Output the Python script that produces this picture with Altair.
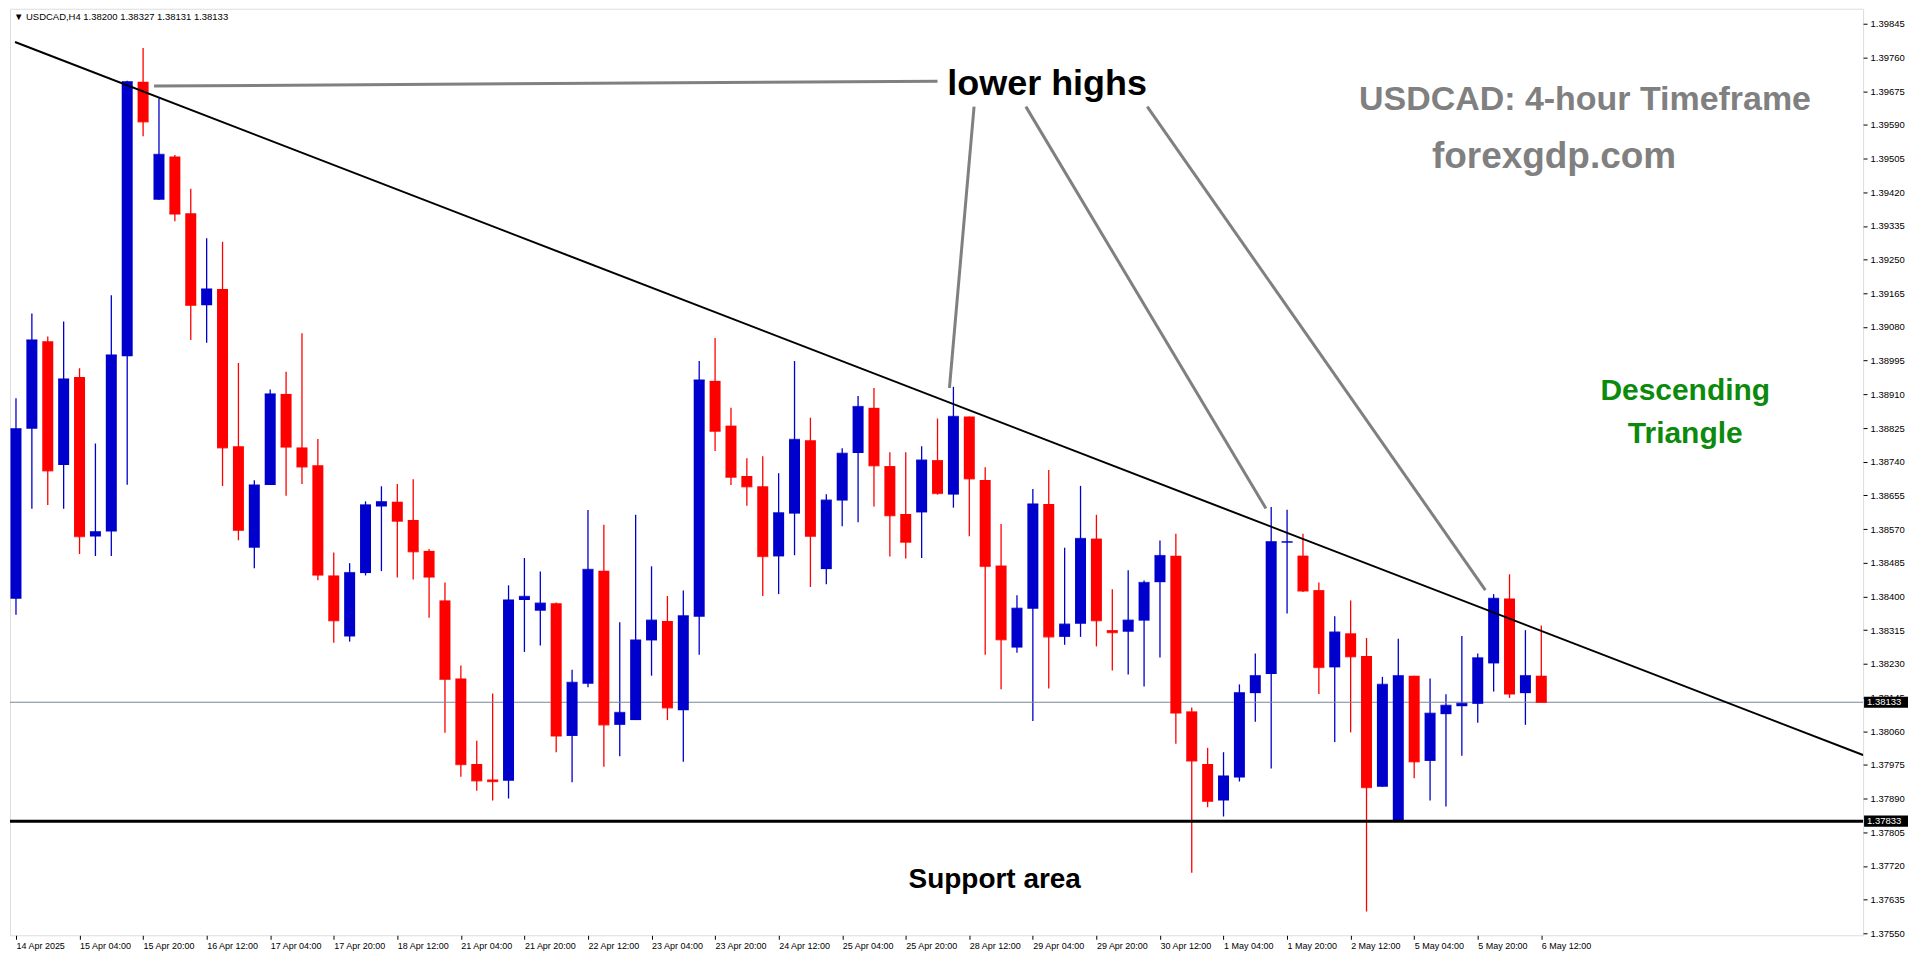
import altair as alt
import pandas as pd

# ---------------- data ----------------
candle_index = list(range(97))
open_ = [1.38394, 1.38823, 1.39044, 1.38732, 1.38954, 1.38551, 1.38564, 1.39006, 1.39699, 1.39401,
         1.39510, 1.39367, 1.39135, 1.39176, 1.38779, 1.38523, 1.38681, 1.38911, 1.38776, 1.38731,
         1.38453, 1.38299, 1.38459, 1.38627, 1.38639, 1.38593, 1.38515, 1.38390, 1.38193, 1.37977,
         1.37938, 1.37935, 1.38391, 1.38364, 1.38383, 1.38048, 1.38180, 1.38465, 1.38076, 1.38088,
         1.38289, 1.38338, 1.38113, 1.38349, 1.38944, 1.38831, 1.38704, 1.38678, 1.38501, 1.38609,
         1.38794, 1.38469, 1.38642, 1.38762, 1.38876, 1.38729, 1.38608, 1.38612, 1.38744, 1.38657,
         1.38854, 1.38694, 1.38478, 1.38271, 1.38369, 1.38633, 1.38298, 1.38331, 1.38546, 1.38315,
         1.38311, 1.38339, 1.38436, 1.38503, 1.38110, 1.37977, 1.37885, 1.37943, 1.38156, 1.38204,
         1.38536, 1.38503, 1.38416, 1.38221, 1.38307, 1.38250, 1.37920, 1.37836, 1.38200, 1.37985,
         1.38103, 1.38123, 1.38129, 1.38231, 1.38395, 1.38156, 1.38200]
high = [1.38900, 1.39114, 1.39056, 1.39094, 1.38976, 1.38786, 1.39160, 1.39701, 1.39784, 1.39657,
        1.39514, 1.39429, 1.39304, 1.39295, 1.38989, 1.38693, 1.38922, 1.38967, 1.39064, 1.38797,
        1.38511, 1.38484, 1.38640, 1.38678, 1.38684, 1.38696, 1.38520, 1.38435, 1.38226, 1.38036,
        1.38155, 1.38428, 1.38497, 1.38463, 1.38385, 1.38215, 1.38618, 1.38581, 1.38335, 1.38606,
        1.38476, 1.38401, 1.38415, 1.38994, 1.39052, 1.38876, 1.38749, 1.38754, 1.38711, 1.38994,
        1.38851, 1.38658, 1.38774, 1.38906, 1.38926, 1.38764, 1.38764, 1.38779, 1.38849, 1.38929,
        1.38854, 1.38726, 1.38583, 1.38403, 1.38671, 1.38719, 1.38523, 1.38679, 1.38606, 1.38418,
        1.38466, 1.38440, 1.38541, 1.38558, 1.38120, 1.38018, 1.38007, 1.38178, 1.38256, 1.38626,
        1.38619, 1.38558, 1.38435, 1.38350, 1.38390, 1.38295, 1.38197, 1.38293, 1.38200, 1.38193,
        1.38153, 1.38300, 1.38256, 1.38406, 1.38456, 1.38315, 1.38327]
low = [1.38354, 1.38621, 1.38631, 1.38621, 1.38507, 1.38502, 1.38502, 1.38682, 1.39561, 1.39401,
       1.39347, 1.39047, 1.39040, 1.38679, 1.38542, 1.38471, 1.38681, 1.38654, 1.38684, 1.38441,
       1.38283, 1.38286, 1.38453, 1.38464, 1.38448, 1.38443, 1.38346, 1.38056, 1.37945, 1.37910,
       1.37885, 1.37890, 1.38260, 1.38276, 1.38007, 1.37931, 1.38171, 1.37970, 1.37997, 1.38088,
       1.38200, 1.38088, 1.37983, 1.38253, 1.38767, 1.38681, 1.38629, 1.38401, 1.38406, 1.38504,
       1.38424, 1.38431, 1.38577, 1.38587, 1.38627, 1.38501, 1.38496, 1.38497, 1.38657, 1.38624,
       1.38552, 1.38253, 1.38166, 1.38258, 1.38086, 1.38168, 1.38278, 1.38298, 1.38274, 1.38213,
       1.38203, 1.38173, 1.38246, 1.38028, 1.37703, 1.37868, 1.37845, 1.37933, 1.38084, 1.37966,
       1.38357, 1.38411, 1.38154, 1.38033, 1.38057, 1.37605, 1.37920, 1.37833, 1.37941, 1.37885,
       1.37870, 1.37998, 1.38081, 1.38160, 1.38144, 1.38076, 1.38131]
close = [1.38823, 1.39047, 1.38717, 1.38949, 1.38551, 1.38563, 1.39009, 1.39699, 1.39598, 1.39515,
         1.39365, 1.39135, 1.39176, 1.38775, 1.38567, 1.38681, 1.38911, 1.38777, 1.38727, 1.38454,
         1.38339, 1.38460, 1.38631, 1.38639, 1.38590, 1.38513, 1.38449, 1.38191, 1.37976, 1.37935,
         1.37933, 1.38391, 1.38400, 1.38383, 1.38048, 1.38183, 1.38468, 1.38076, 1.38107, 1.38290,
         1.38340, 1.38119, 1.38351, 1.38946, 1.38817, 1.38701, 1.38677, 1.38501, 1.38611, 1.38796,
         1.38552, 1.38643, 1.38761, 1.38879, 1.38730, 1.38604, 1.38537, 1.38744, 1.38660, 1.38854,
         1.38697, 1.38476, 1.38291, 1.38370, 1.38633, 1.38298, 1.38330, 1.38546, 1.38339, 1.38309,
         1.38340, 1.38435, 1.38503, 1.38106, 1.37985, 1.37883, 1.37947, 1.38157, 1.38200, 1.38538,
         1.38538, 1.38414, 1.38221, 1.38310, 1.38248, 1.37918, 1.38178, 1.38200, 1.37983, 1.38105,
         1.38125, 1.38130, 1.38245, 1.38395, 1.38154, 1.38200, 1.38133]

x_tick_values = [0, 4, 8, 12, 16, 20, 24, 28, 32, 36, 40, 44, 48, 52, 56, 60, 64, 68, 72, 76, 80,
                 84, 88, 92, 96]
x_tick_labels = ["14 Apr 2025", "15 Apr 04:00", "15 Apr 20:00", "16 Apr 12:00", "17 Apr 04:00",
                 "17 Apr 20:00", "18 Apr 12:00", "21 Apr 04:00", "21 Apr 20:00", "22 Apr 12:00",
                 "23 Apr 04:00", "23 Apr 20:00", "24 Apr 12:00", "25 Apr 04:00", "25 Apr 20:00",
                 "28 Apr 12:00", "29 Apr 04:00", "29 Apr 20:00", "30 Apr 12:00", "1 May 04:00",
                 "1 May 20:00", "2 May 12:00", "5 May 04:00", "5 May 20:00", "6 May 12:00"]
y_tick_values = [1.37550, 1.37635, 1.37720, 1.37805, 1.37890, 1.37975, 1.38060, 1.38145, 1.38230,
                 1.38315, 1.38400, 1.38485, 1.38570, 1.38655, 1.38740, 1.38825, 1.38910, 1.38995,
                 1.39080, 1.39165, 1.39250, 1.39335, 1.39420, 1.39505, 1.39590, 1.39675, 1.39760,
                 1.39845]

trend_x = [-0.0625, 116.69]
trend_p = [1.39799, 1.37993]
support_price = 1.37833
bid_price = 1.38133

ann_x1 = [8.69, 60.3, 63.56, 71.2]
ann_p1 = [1.39688, 1.39636, 1.39636, 1.39636]
ann_x2 = [58.0, 58.75, 78.67, 92.48]
ann_p2 = [1.39700, 1.38926, 1.38622, 1.38416]

note_text = ["lower highs", "USDCAD: 4-hour Timeframe", "forexgdp.com", "Descending", "Triangle",
             "Support area"]
note_x = [64.9, 98.75, 96.8, 105.06, 105.06, 61.6]
note_p = [1.39692, 1.39652, 1.39508, 1.38918, 1.38810, 1.37685]
note_size = [36, 34, 37, 30, 30, 28]
note_color = ["#000000", "#808080", "#808080", "#0B8A0B", "#0B8A0B", "#000000"]

tag_price = [bid_price, support_price]
tag_text = ["1.38133", "1.37833"]

header = "\u25BC USDCAD,H4  1.38200 1.38327 1.38131 1.38133"

# ---------------- chart ----------------
W, H = 1856, 928
FONT = "Liberation Sans"

df = pd.DataFrame({"i": candle_index, "open": open_, "high": high, "low": low, "close": close})
df["dir"] = ["up" if c >= o else "down" for o, c in zip(open_, close)]

xs = alt.Scale(domain=[-0.0625, 115.9375], nice=False, zero=False)
ys = alt.Scale(domain=[1.37545, 1.39883], nice=False, zero=False)
col = alt.Color("dir:N", scale=alt.Scale(domain=["up", "down"], range=["#0000CD", "#FF0000"]),
                legend=None)

labels_js = "[" + ",".join("'" + s + "'" for s in x_tick_labels) + "]"
x_axis = alt.Axis(values=x_tick_values, labelExpr=labels_js + "[round(datum.value/4)]",
                  labelAlign="left", labelPadding=2, tickSize=4, tickColor="black",
                  labelFont=FONT, labelFontSize=9, labelColor="black", grid=False,
                  domain=False, title=None, labelOverlap=False, labelBound=False, labelFlush=False)
y_axis = alt.Axis(orient="right", values=y_tick_values, format=".5f", tickSize=4,
                  tickColor="black", labelPadding=3, labelFont=FONT, labelFontSize=9.5,
                  labelColor="black", grid=False, domain=False, title=None, labelOverlap=False,
                  labelBound=False, labelFlush=False)


def X(field):
    return alt.X(field, scale=xs, axis=x_axis)


def Y(field):
    return alt.Y(field, scale=ys, axis=y_axis)


base = alt.Chart(df)

wicks = base.mark_rule(strokeWidth=1.3, clip=True).encode(
    x=X("i:Q"), y=Y("low:Q"), y2="high:Q", color=col)
bodies = base.mark_bar(size=11, clip=True).encode(
    x=X("i:Q"), y=Y("open:Q"), y2="close:Q", color=col)
doji = base.mark_tick(orient="horizontal", size=11, thickness=1.5, clip=True).encode(
    x=X("i:Q"), y=Y("close:Q"), color=col)

bid_line = alt.Chart(pd.DataFrame({"p": [bid_price]})).mark_rule(
    color="#778899", strokeWidth=1).encode(y=Y("p:Q"))
support_line = alt.Chart(pd.DataFrame({"p": [support_price]})).mark_rule(
    color="black", strokeWidth=3).encode(y=Y("p:Q"))

trend = alt.Chart(pd.DataFrame({"x": trend_x, "p": trend_p})).mark_line(
    color="black", strokeWidth=2, clip=True).encode(x=X("x:Q"), y=Y("p:Q"))

ann = alt.Chart(pd.DataFrame({"x1": ann_x1, "p1": ann_p1, "x2": ann_x2, "p2": ann_p2})).mark_rule(
    color="#808080", strokeWidth=3, clip=True).encode(
    x=X("x1:Q"), y=Y("p1:Q"), x2="x2:Q", y2="p2:Q")

notes = alt.Chart(pd.DataFrame({"t": note_text, "x": note_x, "p": note_p, "s": note_size,
                                "c": note_color})).mark_text(
    font=FONT, fontWeight="bold", align="center", baseline="middle").encode(
    x=X("x:Q"), y=Y("p:Q"),
    text="t:N", size=alt.Size("s:Q", scale=None, legend=None),
    color=alt.Color("c:N", scale=None, legend=None))

tag_df = pd.DataFrame({"p": tag_price, "t": tag_text})
tag_box = alt.Chart(tag_df).transform_calculate(
    top="datum.p + 0.00014", bot="datum.p - 0.00014").mark_rect(color="black").encode(
    x=alt.value(W + 1), x2=alt.value(W + 45),
    y=Y("top:Q"), y2="bot:Q")
tag_txt = alt.Chart(tag_df).mark_text(font=FONT, fontSize=9.5, color="white", align="left",
                                      baseline="middle").encode(
    x=alt.value(W + 4), y=Y("p:Q"), text="t:N")

head = alt.Chart(pd.DataFrame({"t": [header]})).mark_text(
    font=FONT, fontSize=9.5, color="black", align="left", baseline="middle").encode(
    x=alt.value(4), y=alt.value(8), text="t:N")

chart = alt.layer(
    wicks, bid_line, bodies, doji, support_line, trend, ann, notes, tag_box, tag_txt, head
).properties(
    width=W, height=H, padding={"left": 0, "top": 0, "right": 0, "bottom": 0}
).configure_view(stroke="black", strokeWidth=1).configure(background="white")

chart.save("out.html", embed_options={"renderer": "svg", "actions": False})
